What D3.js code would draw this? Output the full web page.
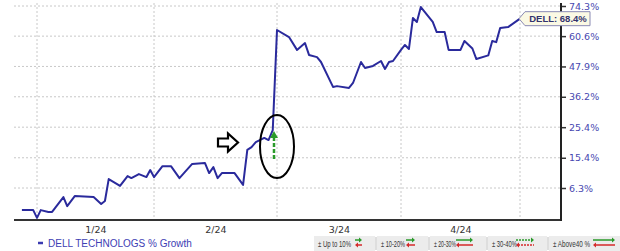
<!DOCTYPE html>
<html>
<head>
<meta charset="utf-8">
<script src="https://cdn.jsdelivr.net/npm/d3@7"></script>
<style>
  body { margin: 0; background: #fff; }
  svg { display: block; }
</style>
</head>
<body>
<svg id="chart"></svg>
<script>
// ---- data ----
const dates = [
  "2023-12-28","2023-12-31","2024-01-01","2024-01-02","2024-01-04","2024-01-05","2024-01-08","2024-01-09",
  "2024-01-11","2024-01-16","2024-01-18","2024-01-19","2024-01-20","2024-01-23","2024-01-25","2024-01-26",
  "2024-01-28","2024-01-30","2024-01-31","2024-02-01","2024-02-03","2024-02-05","2024-02-07","2024-02-10",
  "2024-02-13","2024-02-14","2024-02-15","2024-02-16","2024-02-17","2024-02-20","2024-02-22","2024-02-23",
  "2024-02-24","2024-02-25","2024-02-27","2024-02-28","2024-02-29","2024-03-01","2024-03-04","2024-03-06",
  "2024-03-08","2024-03-09","2024-03-11","2024-03-12","2024-03-15","2024-03-16","2024-03-19","2024-03-20",
  "2024-03-22","2024-03-23","2024-03-25","2024-03-27","2024-03-28","2024-03-29","2024-03-30","2024-04-01",
  "2024-04-02","2024-04-03","2024-04-04","2024-04-05","2024-04-06","2024-04-09","2024-04-10","2024-04-12",
  "2024-04-13","2024-04-16","2024-04-17","2024-04-19","2024-04-20","2024-04-23","2024-04-24","2024-04-25",
  "2024-04-26","2024-04-28","2024-05-01"
];
const growth = [
  0.1, 0.1, -2.0, 0.1, -0.4, -0.4, 3.7, 1.2,
  4.0, 3.7, 1.8, 2.6, 8.9, 6.9, 9.8, 9.2,
  10.4, 9.5, 11.6, 9.5, 12.8, 12.8, 9.2, 13.5,
  13.8, 10.7, 12.5, 9.2, 10.7, 10.7, 7.2, 17.9,
  18.8, 20.4, 21.8, 21.1, 24.4, 63.3, 60.2, 54.7,
  57.6, 52.6, 51.7, 49.7, 39.9, 40.2, 39.5, 41.4,
  49.7, 47.3, 48.1, 50.1, 46.9, 49.7, 50.1, 54.7,
  56.8, 55.1, 68.7, 66.9, 73.8, 66.9, 62.4, 62.4,
  54.7, 54.7, 58.5, 55.3, 50.9, 52.4, 58.5, 58.0,
  64.2, 64.6, 68.4
];
const monthStarts = ["2024-01-01","2024-02-01","2024-03-01","2024-04-01","2024-05-01"];
const monthLabels = ["1/24","2/24","3/24","4/24"];
const yTicks = [6.3, 15.4, 25.4, 36.2, 47.9, 60.6, 74.3];
const seriesName = "DELL TECHNOLOGS % Growth";
const tipLabel = "DELL";
const jumpDate = "2024-03-01";
const rangeLabels = ["\u00b1 Up to 10%", "\u00b1 10-20%", "\u00b1 20-30%", "\u00b1 30-40%", "\u00b1 Above40 %"];

// ---- setup ----
const W = 620, H = 251;
const parse = d3.timeParse("%Y-%m-%d");
const data = dates.map((d, i) => ({date: parse(d), v: growth[i]}));

const svg = d3.select("#chart").attr("width", W).attr("height", H);

const plot = {left: 14, right: 561, top: 3, bottom: 220};

// month boundaries are not evenly spaced in the source, so use a piecewise time scale
const x = d3.scaleTime()
  .domain(monthStarts.map(parse))
  .range([37, 154, 277, 401, 520]);

// growth axis is logarithmic on (1 + g)
const y = d3.scaleLog()
  .domain([1 + yTicks[0] / 100, 1 + yTicks[yTicks.length - 1] / 100])
  .range([188, 6]);
const yv = v => y(1 + v / 100);

// grid
svg.append("g")
  .selectAll("line")
  .data(yTicks)
  .join("line")
    .attr("x1", plot.left).attr("x2", plot.right)
    .attr("y1", d => yv(d)).attr("y2", d => yv(d))
    .attr("stroke", "#c8c8c8").attr("stroke-dasharray", "2,2");

svg.append("g")
  .selectAll("line")
  .data(monthStarts)
  .join("line")
    .attr("x1", d => x(parse(d))).attr("x2", d => x(parse(d)))
    .attr("y1", plot.top).attr("y2", plot.bottom)
    .attr("stroke", "#c8c8c8").attr("stroke-dasharray", "2,2");

// x axis labels, centred in each month
const mids = monthLabels.map((m, i) => new Date((parse(monthStarts[i]).getTime() + parse(monthStarts[i + 1]).getTime()) / 2));
const xAxis = svg.append("g")
  .attr("transform", `translate(0,${plot.bottom})`)
  .call(d3.axisBottom(x).tickValues(mids).tickSize(0).tickPadding(6)
    .tickFormat((d, i) => monthLabels[i]));
xAxis.select(".domain").remove();
xAxis.selectAll("text")
  .attr("fill", "#333")
  .style("font-family", "DejaVu Sans, sans-serif")
  .style("font-size", "9.5px");

svg.append("line")
  .attr("x1", plot.left).attr("x2", plot.right + 1)
  .attr("y1", plot.bottom).attr("y2", plot.bottom)
  .attr("stroke", "#333").attr("stroke-width", 2);

// right axis
const yAxis = svg.append("g")
  .attr("transform", `translate(${plot.right},0)`)
  .call(d3.axisRight(y).tickValues(yTicks.map(v => 1 + v / 100)).tickSize(5).tickPadding(3)
    .tickFormat((d, i) => yTicks[i].toFixed(1) + "%"));
yAxis.select(".domain").remove();
yAxis.selectAll(".tick line").attr("stroke", "#333").attr("stroke-width", 1.5);
yAxis.selectAll("text")
  .attr("fill", "#4747b0")
  .style("font-family", "DejaVu Sans, sans-serif")
  .style("font-size", "9.5px");

svg.append("line")
  .attr("x1", plot.right).attr("x2", plot.right)
  .attr("y1", plot.top).attr("y2", plot.bottom + 1)
  .attr("stroke", "#222").attr("stroke-width", 2);

// the series
const line = d3.line().x(d => x(d.date)).y(d => yv(d.v));
svg.append("path")
  .datum(data)
  .attr("d", line)
  .attr("fill", "none")
  .attr("stroke", "#2a2a9c")
  .attr("stroke-width", 2)
  .attr("stroke-linejoin", "round");

// annotations around the jump
const jx = x(parse(jumpDate));
svg.append("ellipse")
  .attr("cx", jx).attr("cy", 146.5)
  .attr("rx", 17).attr("ry", 31.5)
  .attr("fill", "none").attr("stroke", "#000").attr("stroke-width", 2);

svg.append("line")
  .attr("x1", jx - 3).attr("x2", jx - 3)
  .attr("y1", 159).attr("y2", 138)
  .attr("stroke", "#2a9a2a").attr("stroke-width", 2.5).attr("stroke-dasharray", "4,2");
svg.append("path")
  .attr("d", `M${jx - 3},131 L${jx + 1},138 L${jx - 7},138 Z`)
  .attr("fill", "#2a9a2a");

// hollow pointer arrow
const ax = 218, ay = 142.5;
svg.append("path")
  .attr("d", `M${ax},${ay - 4} L${ax + 10},${ay - 4} L${ax + 10},${ay - 9} L${ax + 20},${ay} L${ax + 10},${ay + 9} L${ax + 10},${ay + 4} L${ax},${ay + 4} Z`)
  .attr("fill", "#fff").attr("stroke", "#000").attr("stroke-width", 2.2).attr("stroke-linejoin", "miter");

// last value tag
const last = data[data.length - 1];
const tx = x(last.date) - 1, ty = yv(last.v);
svg.append("path")
  .attr("d", `M${tx},${ty} L${tx + 6},${ty - 7} L${tx + 71},${ty - 7} L${tx + 71},${ty + 7} L${tx + 6},${ty + 7} Z`)
  .attr("fill", "#fbf9e4").attr("stroke", "#8a8ab4").attr("stroke-width", 1);
svg.append("text")
  .attr("x", tx + 39).attr("y", ty + 3.5)
  .attr("text-anchor", "middle")
  .attr("fill", "#33336e")
  .style("font-family", "Liberation Sans, Arial, sans-serif")
  .style("font-weight", "bold")
  .style("font-size", "9.5px")
  .text(`${tipLabel}: ${last.v.toFixed(1)}%`);

// series legend
svg.append("line")
  .attr("x1", 38).attr("x2", 43).attr("y1", 243).attr("y2", 243)
  .attr("stroke", "#3a3ab0").attr("stroke-width", 2.5);
svg.append("text")
  .attr("x", 48).attr("y", 246.5)
  .attr("fill", "#4040b4")
  .style("font-family", "Liberation Sans, Arial, sans-serif")
  .style("font-size", "10px")
  .text(seriesName);

// range key boxes
const boxL = [314, 377, 430, 488, 549];
const boxR = [375, 428, 486, 547, 630];
const textW = [33, 24, 22, 25, 37];
const arrowLen = [7, 9, 17, 18, 22];
const key = svg.append("g");
rangeLabels.forEach((lab, i) => {
  const g = key.append("g");
  g.append("rect")
    .attr("x", boxL[i]).attr("y", 236)
    .attr("width", boxR[i] - boxL[i]).attr("height", 15)
    .attr("fill", "#ececec");
  if (i > 0) {
    g.append("line")
      .attr("x1", boxL[i] - 1).attr("x2", boxL[i] - 1).attr("y1", 237).attr("y2", 250)
      .attr("stroke", "#bdbdbd");
  }
  g.append("text")
    .attr("x", boxL[i] + 4).attr("y", 246.5)
    .attr("textLength", textW[i]).attr("lengthAdjust", "spacingAndGlyphs")
    .attr("fill", "#333")
    .style("font-family", "Liberation Sans, Arial, sans-serif")
    .style("font-size", "9.5px")
    .text(lab);
  const end = (i === rangeLabels.length - 1 ? 615 : boxR[i] - 13);
  const start = end - arrowLen[i];
  const dash = i === 3 ? "2,1" : null;
  g.append("line").attr("x1", start).attr("x2", end - 2).attr("y1", 240).attr("y2", 240)
    .attr("stroke", "#2a9a2a").attr("stroke-width", 1.5).attr("stroke-dasharray", dash);
  g.append("path").attr("d", `M${end},240 L${end - 3},237.5 L${end - 3},242.5 Z`).attr("fill", "#2a9a2a");
  g.append("line").attr("x1", start + 2).attr("x2", end).attr("y1", 245).attr("y2", 245)
    .attr("stroke", "#d42a2a").attr("stroke-width", 1.5).attr("stroke-dasharray", dash);
  g.append("path").attr("d", `M${start},245 L${start + 3},242.5 L${start + 3},247.5 Z`).attr("fill", "#d42a2a");
});
</script>
</body>
</html>
